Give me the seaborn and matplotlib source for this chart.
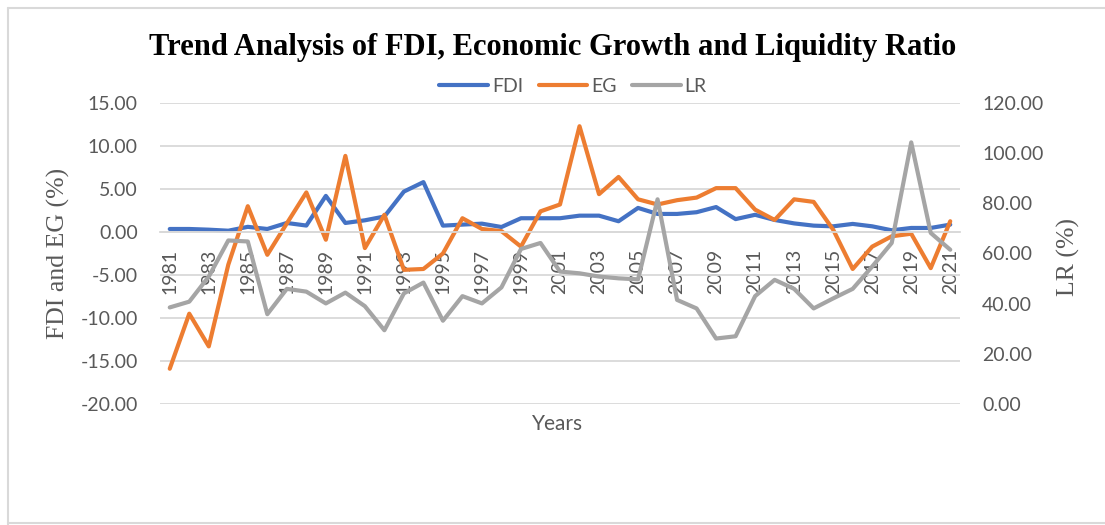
import matplotlib
matplotlib.use("Agg")
import matplotlib.pyplot as plt
import seaborn as sns
import pandas as pd
from matplotlib.ticker import FuncFormatter
from matplotlib.lines import Line2D

# ---- data -------------------------------------------------------------
years = list(range(1981, 2022))

fdi = [0.35, 0.35, 0.27, 0.15, 0.60, 0.35, 1.05, 0.75, 4.20, 1.05,
       1.36, 1.80, 4.70, 5.80, 0.74, 0.86, 0.97, 0.58, 1.60, 1.60,
       1.60, 1.90, 1.90, 1.25, 2.80, 2.10, 2.10, 2.30, 2.90, 1.50,
       2.00, 1.40, 1.00, 0.74, 0.66, 0.94, 0.66, 0.20, 0.47, 0.47,
       0.86]

eg = [-15.9, -9.5, -13.3, -3.8, 3.0, -2.65, 1.0, 4.6, -0.9, 8.85,
      -1.87, 2.0, -4.4, -4.3, -2.5, 1.6, 0.35, 0.1, -1.7, 2.4,
      3.2, 12.3, 4.4, 6.4, 3.8, 3.2, 3.7, 4.0, 5.1, 5.1,
      2.6, 1.4, 3.8, 3.5, 0.27, -4.3, -1.7, -0.5, -0.2, -4.2,
      1.25]

lr = [38.5, 40.8, 50.8, 65.2, 64.8, 35.8, 45.9, 44.8, 40.1, 44.4,
      39.0, 29.4, 44.1, 48.4, 33.2, 43.0, 40.1, 46.5, 61.8, 64.2,
      52.8, 52.1, 50.8, 50.1, 49.7, 81.6, 41.5, 38.1, 26.1, 27.0,
      43.0, 49.5, 45.9, 38.1, 42.1, 45.9, 54.8, 64.2, 104.3, 68.2,
      61.5]

series_names = ["FDI", "EG", "LR"]
series_colors = ["#4472C4", "#ED7D31", "#A5A5A5"]
left_ticks = [-20, -15, -10, -5, 0, 5, 10, 15]
right_ticks = [0, 20, 40, 60, 80, 100, 120]
year_ticks = years[::2]

title = "Trend Analysis of FDI, Economic Growth and Liquidity Ratio"
left_label = "FDI and EG (%)"
right_label = "LR (%)"
x_label = "Years"

df = pd.DataFrame({"Year": years, "FDI": fdi, "EG": eg, "LR": lr})

# ---- style ------------------------------------------------------------
sns.set_theme(style="white")
plt.rcParams["font.family"] = ["Lato", "DejaVu Sans"]
text_grey = "#595959"
grid_grey = "#D9D9D9"

W, H = 1105, 525
fig = plt.figure(figsize=(W / 100, H / 100), dpi=100)
fig.patch.set_facecolor("white")
ax = fig.add_axes([160 / W, 1 - 404 / H, 800 / W, 301 / H])
ax.set_facecolor("white")

line_kw = dict(linewidth=3.0, solid_capstyle="round", solid_joinstyle="round")
sns.lineplot(data=df, x="Year", y="FDI", ax=ax, color=series_colors[0], legend=False, **line_kw)
sns.lineplot(data=df, x="Year", y="EG", ax=ax, color=series_colors[1], legend=False, **line_kw)

ax2 = ax.twinx()
sns.lineplot(data=df, x="Year", y="LR", ax=ax2, color=series_colors[2], legend=False, **line_kw)

# ---- axes -------------------------------------------------------------
ax.set_xlim(years[0] - 0.5, years[-1] + 0.5)
ax.set_ylim(left_ticks[0], left_ticks[-1])
ax2.set_ylim(right_ticks[0], right_ticks[-1])

ax.set_yticks(left_ticks)
ax2.set_yticks(right_ticks)
fmt = FuncFormatter(lambda v, _: f"{v:.2f}")
ax.yaxis.set_major_formatter(fmt)
ax2.yaxis.set_major_formatter(fmt)

ax.yaxis.grid(True, color=grid_grey, linewidth=1.3)
ax.set_axisbelow(True)

for a in (ax, ax2):
    for s in a.spines.values():
        s.set_visible(False)
    a.set_xlabel("")
    a.set_ylabel("")

# category labels sit on the zero line
ax.spines["bottom"].set_visible(True)
ax.spines["bottom"].set_position(("data", 0))
ax.spines["bottom"].set_color(grid_grey)
ax.spines["bottom"].set_linewidth(1.3)
ax.set_xticks(year_ticks)
ax.set_xticklabels([str(y) for y in year_ticks], rotation=90)
ax.tick_params(axis="x", length=0, pad=12, labelsize=14, labelcolor=text_grey)
ax.tick_params(axis="y", length=0, pad=16, labelsize=14, labelcolor=text_grey)
ax2.tick_params(axis="y", length=0, pad=16, labelsize=14, labelcolor=text_grey)

# ---- texts ------------------------------------------------------------
fig.text(553 / W, 1 - 47 / H, title, ha="center", va="center",
         family=["Liberation Serif"], weight="bold", size=22, color="black")
fig.text(58 / W, 1 - 253 / H, left_label, rotation=90, ha="center", va="center",
         family=["Liberation Serif"], size=18.5, color=text_grey)
fig.text(1068 / W, 1 - 257 / H, right_label, rotation=90, ha="center", va="center",
         family=["Liberation Serif"], size=18.5, color=text_grey)
fig.text(558 / W, 1 - 424 / H, x_label, ha="center", va="center",
         size=15, color=text_grey)

handles = list(ax.get_lines()[:2]) + list(ax2.get_lines()[:1])
fig.legend(handles, series_names, loc="center", bbox_to_anchor=(573 / W, 1 - 86 / H),
           ncol=3, frameon=False, handlelength=2.5, handletextpad=0.2,
           columnspacing=0.8, fontsize=14, labelcolor=text_grey)

# chart frame
frame_kw = dict(transform=fig.transFigure, color=grid_grey, linewidth=1.5)
fig.add_artist(Line2D([8 / W, 8 / W], [0, 1 - 8 / H], **frame_kw))
fig.add_artist(Line2D([8 / W, 1], [1 - 8 / H, 1 - 8 / H], **frame_kw))
fig.add_artist(Line2D([8 / W, 1], [2 / H, 2 / H], **frame_kw))

fig.savefig("out.png", dpi=100, facecolor="white")
